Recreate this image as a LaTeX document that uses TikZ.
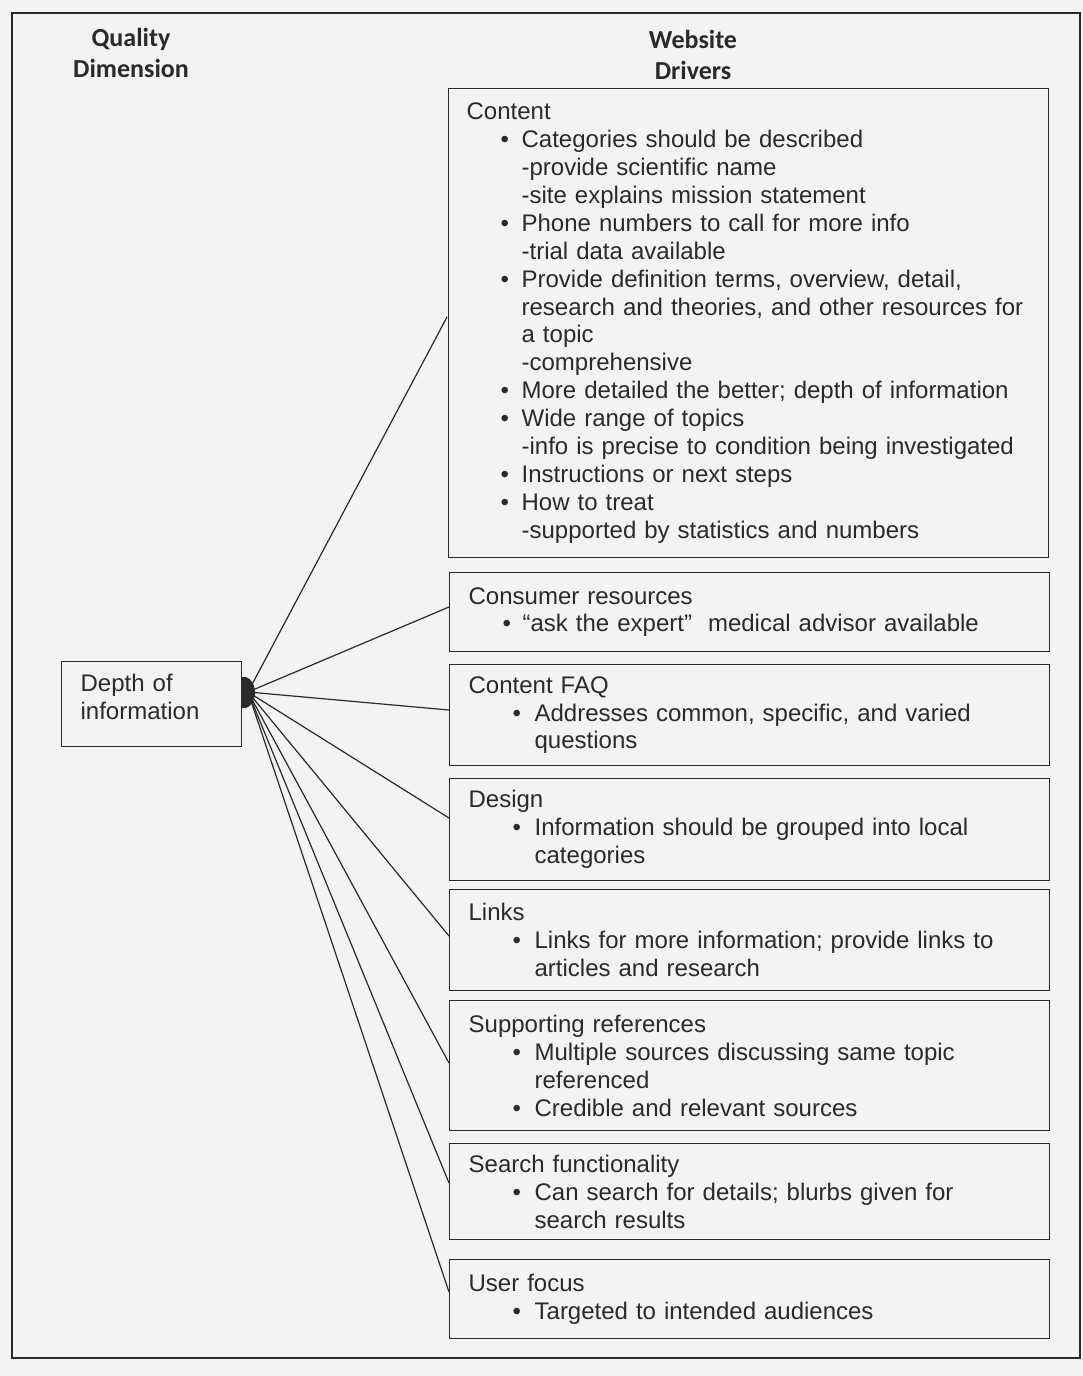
\documentclass[tikz,border=0pt]{standalone}
\usepackage{fontspec}
\setmainfont{Liberation Sans}
\newfontfamily\hdrfont{Carlito}
\usetikzlibrary{calc}
\definecolor{bg}{HTML}{F3F3F3}
\definecolor{ink}{HTML}{2A2A2A}
\newcommand\bitem[3]{\hspace*{#1pt}\makebox[#2pt][l]{•}#3}
\newcommand\citem[2]{\hspace*{#1pt}#2}
\tikzset{
  drv/.style={draw=ink, line width=1.3pt, fill=bg, anchor=north west,
    minimum width=600pt, inner xsep=19pt, inner ysep=0pt, text width=562pt,
    align=left, font=\fontsize{24}{27.9}\selectfont, text=ink},
  hdr/.style={align=center, text=ink, font=\hdrfont\bfseries\fontsize{26}{31}\selectfont},
  conn/.style={draw=ink, line width=1.2pt},
  frame/.style={draw=ink, line width=2pt},
}
\begin{document}
\begin{tikzpicture}[x=1pt,y=-1pt]
\useasboundingbox[fill=bg] (0,0) rectangle (1083,1376);
\draw[frame] (12,13) rectangle (1080,1358);

\node[hdr] (qd) at (131,53) {Quality\\Dimension};
\node[hdr] (wd) at (693,55) {Website\\Drivers};

\node[drv, minimum width=180pt, text width=142pt, minimum height=85pt, text depth=43pt] (depth) at (61,661)
  {Depth of\\information};

\node[drv, inner xsep=18pt, text width=564pt, minimum height=469pt] (content) at (448,88) {Content\\
\bitem{34}{21}{Categories should be described}\\
\citem{55}{-provide scientific name}\\
\citem{55}{-site explains mission statement}\\
\bitem{34}{21}{Phone numbers to call for more info}\\
\citem{55}{-trial data available}\\
\bitem{34}{21}{Provide definition terms, overview, detail,}\\
\citem{55}{research and theories, and other resources for}\\
\citem{55}{a topic}\\
\citem{55}{-comprehensive}\\
\bitem{34}{21}{More detailed the better; depth of information}\\
\bitem{34}{21}{Wide range of topics}\\
\citem{55}{-info is precise to condition being investigated}\\
\bitem{34}{21}{Instructions or next steps}\\
\bitem{34}{21}{How to treat}\\
\citem{55}{-supported by statistics and numbers}};

\node[drv, minimum height=79pt] (consumer) at (449,572) {Consumer resources\\
\bitem{34}{20}{“ask the expert”\ \ medical advisor available}};

\node[drv, minimum height=101pt] (faq) at (449,664) {Content FAQ\\
\bitem{44}{22}{Addresses common, specific, and varied}\\
\citem{66}{questions}};

\node[drv, minimum height=102pt] (design) at (449,778) {Design\\
\bitem{44}{22}{Information should be grouped into local}\\
\citem{66}{categories}};

\node[drv, minimum height=101pt] (links) at (449,889) {Links\\
\bitem{44}{22}{Links for more information; provide links to}\\
\citem{66}{articles and research}};

\node[drv, minimum height=130pt] (support) at (449,1000) {Supporting references\\
\bitem{44}{22}{Multiple sources discussing same topic}\\
\citem{66}{referenced}\\
\bitem{44}{22}{Credible and relevant sources}};

\node[drv, minimum height=96pt] (search) at (449,1143) {Search functionality\\
\bitem{44}{22}{Can search for details; blurbs given for}\\
\citem{66}{search results}};

\node[drv, minimum height=79pt] (user) at (449,1259) {User focus\\
\bitem{44}{22}{Targeted to intended audiences}};

\coordinate (hub) at (248,692);
\draw[conn] (hub) -- ($(content.north west)+(-1,229)$);
\draw[conn] (hub) -- ($(consumer.north west)+(0,35)$);
\draw[conn] (hub) -- ($(faq.north west)+(0,46)$);
\draw[conn] (hub) -- ($(design.north west)+(0,40)$);
\draw[conn] (hub) -- ($(links.north west)+(0,47)$);
\draw[conn] (hub) -- ($(support.north west)+(0,63)$);
\draw[conn] (hub) -- ($(search.north west)+(0,40)$);
\draw[conn] (hub) -- ($(user.north west)+(0,33)$);

\fill[ink] (241,677) -- (246,677) .. controls (258,681) and (258,704) .. (246,708) -- (241,708) -- cycle;
\end{tikzpicture}
\end{document}
